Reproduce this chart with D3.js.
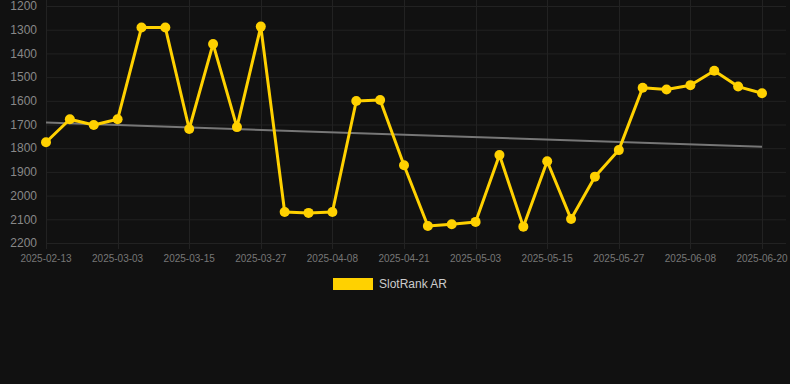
<!DOCTYPE html>
<html>
<head>
<meta charset="utf-8">
<script src="https://cdn.jsdelivr.net/npm/d3@7"></script>
<style>
  html, body { margin: 0; padding: 0; background: #111111; }
  svg { display: block; font-family: "Liberation Sans", Arial, sans-serif; }
</style>
</head>
<body>
<svg id="chart" width="790" height="384"></svg>
<script>
// data
var dates = ["2025-02-13","2025-02-19","2025-02-25","2025-03-03","2025-03-07","2025-03-11",
  "2025-03-15","2025-03-19","2025-03-23","2025-03-27","2025-03-31","2025-04-04",
  "2025-04-08","2025-04-12","2025-04-16","2025-04-21","2025-04-25","2025-04-29",
  "2025-05-03","2025-05-07","2025-05-11","2025-05-15","2025-05-19","2025-05-23",
  "2025-05-27","2025-05-31","2025-06-04","2025-06-08","2025-06-12","2025-06-16","2025-06-20"];
var ranks = [1775,1678,1702,1678,1291,1291,1719,1360,1711,1287,2069,2073,2069,1601,1597,
  1872,2128,2121,2111,1829,2131,1855,2099,1920,1808,1545,1552,1534,1473,1540,1568];
var trend = [1692, 1794]; // start / end of trend line
var yTicks = [1200,1300,1400,1500,1600,1700,1800,1900,2000,2100,2200];
var seriesName = "SlotRank AR";

var lineColor = "#FFD100";
var svg = d3.select("#chart");

var x = d3.scalePoint().domain(dates).range([46, 762]);
var y = d3.scaleLinear().domain([1200, 2200]).range([6, 243]);

var xTickDates = dates.filter(function(d, i) { return i % 3 === 0; });

// grid
svg.append("g").selectAll("line").data(yTicks).enter().append("line")
  .attr("x1", 46).attr("x2", 786)
  .attr("y1", function(d) { return y(d) + 0.5; })
  .attr("y2", function(d) { return y(d) + 0.5; })
  .attr("stroke", "#222").attr("stroke-width", 1);

svg.append("g").selectAll("line").data(xTickDates).enter().append("line")
  .attr("x1", function(d) { return Math.round(x(d)) + 0.5; })
  .attr("x2", function(d) { return Math.round(x(d)) + 0.5; })
  .attr("y1", 0).attr("y2", 249)
  .attr("stroke", "#222").attr("stroke-width", 1);

// y labels
svg.append("g").selectAll("text").data(yTicks).enter().append("text")
  .attr("x", 37)
  .attr("y", function(d) { return y(d); })
  .attr("dy", "0.35em")
  .attr("text-anchor", "end")
  .attr("font-size", 12)
  .attr("fill", "#888")
  .text(function(d) { return d; });

// x labels
svg.append("g").selectAll("text").data(xTickDates).enter().append("text")
  .attr("x", function(d) { return x(d); })
  .attr("y", 262)
  .attr("text-anchor", "middle")
  .attr("font-size", 10)
  .attr("fill", "#777")
  .text(function(d) { return d; });

// trend line
svg.append("line")
  .attr("x1", x(dates[0])).attr("x2", x(dates[dates.length - 1]))
  .attr("y1", y(trend[0])).attr("y2", y(trend[1]))
  .attr("stroke", "#777").attr("stroke-width", 2);

// series line
var line = d3.line()
  .x(function(d, i) { return x(dates[i]); })
  .y(function(d) { return y(d); });

svg.append("path")
  .datum(ranks)
  .attr("d", line)
  .attr("fill", "none")
  .attr("stroke", lineColor)
  .attr("stroke-width", 3)
  .attr("stroke-linejoin", "round");

svg.append("g").selectAll("circle").data(ranks).enter().append("circle")
  .attr("cx", function(d, i) { return x(dates[i]); })
  .attr("cy", function(d) { return y(d); })
  .attr("r", 5)
  .attr("fill", lineColor);

// legend
var legend = svg.append("g");
legend.append("rect")
  .attr("x", 333).attr("y", 278).attr("width", 40).attr("height", 12)
  .attr("fill", lineColor);
legend.append("text")
  .attr("x", 379).attr("y", 284).attr("dy", "0.35em")
  .attr("font-size", 12).attr("fill", "#ccc")
  .text(seriesName);
</script>
</body>
</html>
